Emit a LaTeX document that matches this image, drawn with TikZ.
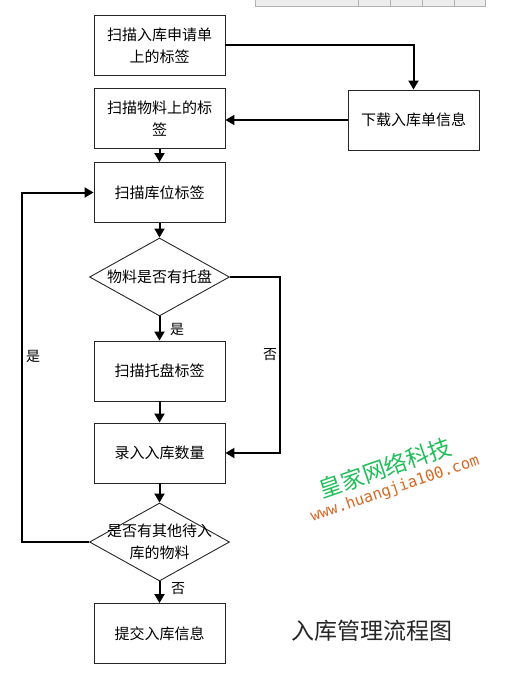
\documentclass[tikz,border=0pt]{standalone}
\usepackage{fontspec}
\setmainfont{Noto Sans CJK SC}
\newfontfamily\wmMono{DejaVu Sans Mono}
\usepackage{tikz}
\usetikzlibrary{shapes.geometric,arrows.meta}
\definecolor{wmGreen}{RGB}{34,190,90}
\definecolor{wmOrange}{RGB}{214,104,36}
\tikzset{
  fBox/.style={draw=black!85,line width=.9bp,minimum width=131bp,minimum height=60bp,
        inner sep=0pt,align=center,font=\fontsize{15bp}{22bp}\selectfont},
  fDecide/.style={diamond,draw=black!85,line width=.9bp,minimum width=140bp,
        minimum height=78bp,inner sep=0pt},
  fText/.style={align=center,font=\fontsize{15bp}{22bp}\selectfont},
  fArrow/.style={line width=2bp,-{Triangle[length=9bp,width=10bp]}},
  fLabel/.style={fill=white,inner sep=2bp,font=\fontsize{14bp}{16bp}\selectfont},
  fTitle/.style={text=black!85,font=\fontsize{23bp}{23bp}\selectfont},
}

\begin{document}
\begin{tikzpicture}[x=1bp,y=-1bp]
\useasboundingbox (0,0) rectangle (507,679);
\draw[black!30,fill=black!7] (255,-1) rectangle (485,6);
\foreach \xx in {358,390,422,454} \draw[black!30] (\xx,-1) -- (\xx,6);
\node[fBox]    (scanApp)  at (159.5,45.5) {扫描入库申请单\\上的标签};
\node[fBox]    (scanMat)  at (159.5,118.5) {扫描物料上的标\\签};
\node[fBox]    (download) at (413.5,120) {下载入库单信息};
\node[fBox]    (scanLoc)  at (159.5,192.5) {扫描库位标签};
\node[fDecide,label={[fText]center:物料是否有托盘}] (hasPallet) at (159.5,277) {};
\node[fBox]    (scanPal)  at (159.5,371) {扫描托盘标签};
\node[fBox]    (enterQty) at (159.5,453) {录入入库数量};
\node[fDecide,label={[fText]center:是否有其他待入\\库的物料}] (moreMat) at (159.5,542) {};
\node[fBox]    (submit)   at (159.5,633.5) {提交入库信息};
\draw[fArrow] (scanApp.east) -| (download.north);
\draw[fArrow] (download.west) -- (download.west -| scanMat.east);
\draw[fArrow] (scanMat) -- (scanLoc);
\draw[fArrow] (scanLoc) -- (hasPallet);
\draw[fArrow] (hasPallet) -- (scanPal);
\draw[fArrow] (hasPallet.east) -- ++(50,0) |- (enterQty.east);
\draw[fArrow] (scanPal) -- (enterQty);
\draw[fArrow] (enterQty) -- (moreMat);
\draw[fArrow] (moreMat.west) -- ++(-67,0) |- (scanLoc.west);
\draw[fArrow] (moreMat) -- (submit);
\node[fLabel,fill=none] (yesPal)  at (177,329) {是};
\node[fLabel]           (noPal)   at (270,355) {否};
\node[fLabel]           (yesMore) at (33,356) {是};
\node[fLabel,fill=none] (noMore)  at (178,589) {否};
\node[fTitle] (title) at (372,631) {入库管理流程图};
\node[rotate=19,text=wmGreen,font=\fontsize{23bp}{23bp}\selectfont] (wmName) at (385,468) {皇家网络科技};
\node[rotate=19,text=wmOrange,font=\wmMono\fontsize{15.5bp}{16bp}\selectfont] (wmUrl) at (395,489) {www.huangjia100.com};
\end{tikzpicture}
\end{document}
